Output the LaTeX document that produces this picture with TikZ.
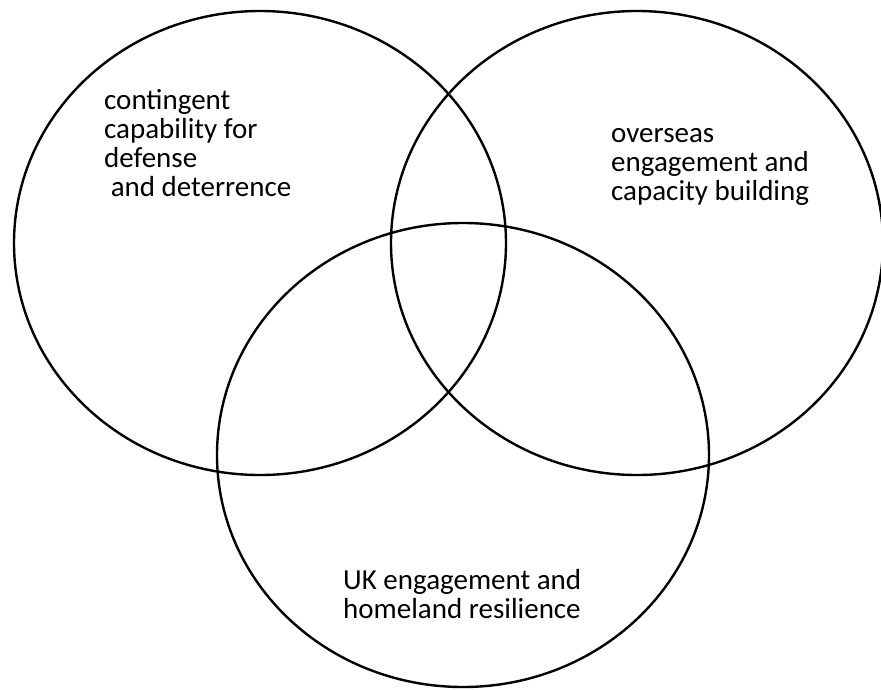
\documentclass[tikz,border=0pt]{standalone}
\usepackage{fontspec}
\setmainfont{Carlito}
\usetikzlibrary{shapes.geometric}

\begin{document}
\begin{tikzpicture}[x=1pt, y=-1pt,
 ring/.style={shape=ellipse, draw, line width=2.4pt, minimum width=492, minimum height=464, inner sep=0pt},
 label/.style={anchor=base west, align=left, inner sep=0pt, font=\fontsize{29}{29}\selectfont}
]

\def\width{881}
\def\height{689}
\useasboundingbox (0,0) rectangle (\width,\height);

% the three circles
\node[ring] (defence) at (260,243) {};
\node[ring] (overseas) at (637,243) {};
\node[ring] (homeland) at (463,455) {};

% texts (anchored at the baseline of the last line)
\node[label] (defencetext) at (104,196) {contingent\\capability for\\defense\\\ and deterrence};
\node[label] (overseastext) at (611,200) {overseas\\engagement and\\capacity building};
\node[label] (homelandtext) at (343,618) {UK engagement and\\homeland resilience};

\end{tikzpicture}
\end{document}
